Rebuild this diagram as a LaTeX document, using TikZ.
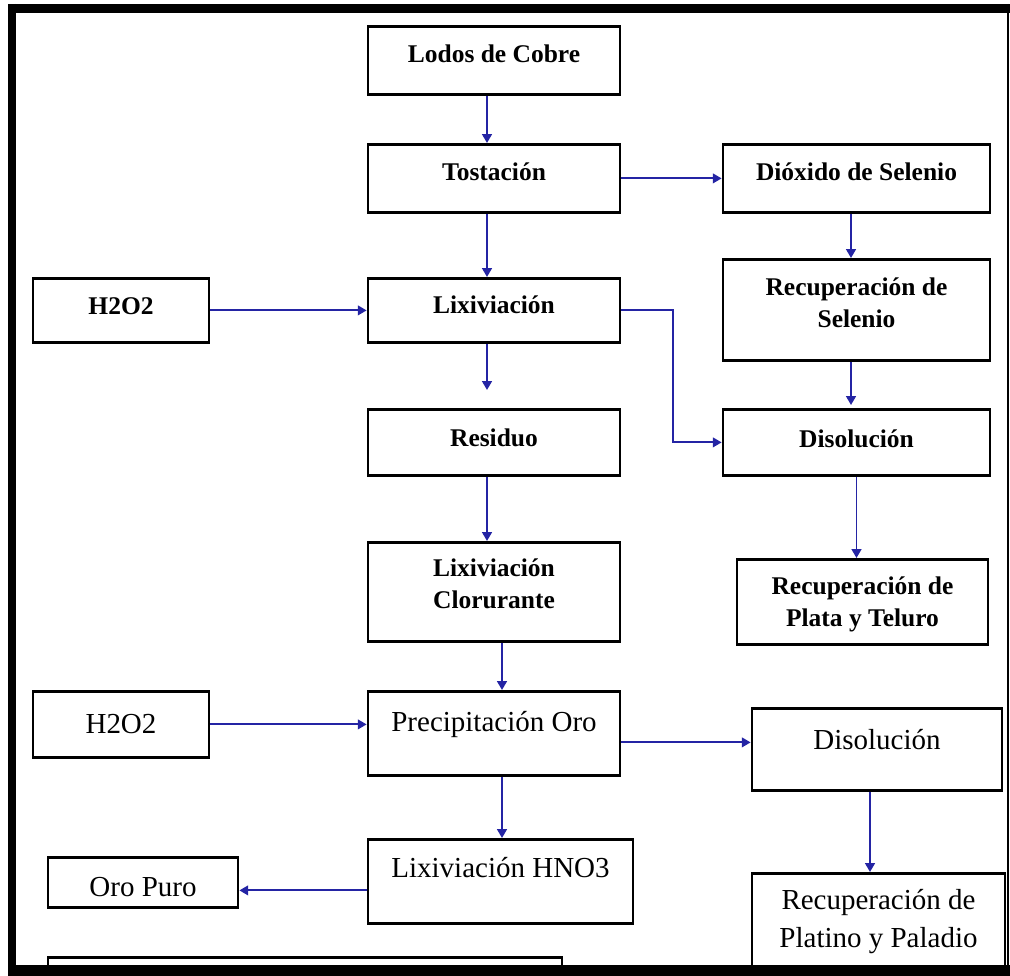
\documentclass[tikz,border=0pt]{standalone}
\usepackage{fontspec}
\setmainfont{Liberation Serif}
\usetikzlibrary{arrows.meta}
\definecolor{Azul}{HTML}{2424A4}
\tikzset{
  caja/.style args={#1/#2/#3}{
    rectangle, draw=black, line width=1.6pt,
    anchor=north, inner sep=0pt, align=center,
    minimum width=#1, text height=#2, text depth=#3,
  },
  tb/.style={font=\fontsize{14.5}{18.2}\selectfont\bfseries},
  tr/.style={font=\fontsize{16.5}{21.6}\selectfont},
  flecha/.style={
    -{Triangle[length=5pt,width=5.5pt]},
    line width=1.1pt, color=Azul,
  },
  marco/.style={line width=#1, color=black},
}
\begin{document}
\begin{tikzpicture}[x=0.02cm,y=-0.02cm]
    \useasboundingbox (0,0) rectangle (1010,976);

    \node[caja=5.04cm/0.72cm/0.64cm,tb] (lodos)  at (494,25)    {Lodos de Cobre};
    \node[caja=5.04cm/0.72cm/0.64cm,tb] (tost)   at (494,143)   {Tostación};
    \node[caja=5.34cm/0.72cm/0.64cm,tb] (diox)   at (856.5,143) {Dióxido de Selenio};
    \node[caja=3.52cm/0.72cm/0.56cm,tb] (agua1)  at (121,277)   {H2O2};
    \node[caja=5.04cm/0.70cm/0.58cm,tb] (lix)    at (494,277)   {Lixiviación};
    \node[caja=5.34cm/1.36cm/0.66cm,tb] (recsel) at (856.5,258) {Recuperación de\\Selenio};
    \node[caja=5.04cm/0.74cm/0.58cm,tb] (resid)  at (494,408)   {Residuo};
    \node[caja=5.34cm/0.76cm/0.56cm,tb] (disol)  at (856.5,408) {Disolución};
    \node[caja=5.04cm/1.32cm/0.66cm,tb] (clor)   at (494,541)   {Lixiviación\\Clorurante};
    \node[caja=5.02cm/1.34cm/0.36cm,tb] (plata)  at (862.5,558) {Recuperación de\\Plata y Teluro};
    \node[caja=3.52cm/0.84cm/0.48cm,tr] (agua2)  at (121,690)   {H2O2};
    \node[caja=5.04cm/0.80cm/0.88cm,tr] (precip) at (494,690)   {Precipitación Oro};
    \node[caja=5.00cm/0.82cm/0.82cm,tr] (disol2) at (877,707)   {Disolución};
    \node[caja=3.80cm/0.78cm/0.22cm,tr] (oro)    at (143,856)   {Oro Puro};
    \node[caja=5.30cm/0.76cm/0.92cm,tr] (hno)    at (500.5,838) {Lixiviación HNO3};
    \node[caja=5.06cm/1.48cm/0.88cm,tr] (platino) at (878.5,872) {Recuperación de\\Platino y Paladio};
    \node[caja=10.28cm/0.34cm/0.34cm]   (vacio)  at (305,956)   {};

    \draw[flecha] ([xshift=-0.14cm]lodos.south) -- ([xshift=-0.14cm]tost.north);
    \draw[flecha] (tost.east) -- (diox.west);
    \draw[flecha] ([xshift=-0.14cm]tost.south) -- ([xshift=-0.14cm]lix.north);
    \draw[flecha] (agua1.east) -- (lix.west);
    \draw[flecha,shorten >=0.36cm] ([xshift=-0.14cm]lix.south) -- ([xshift=-0.14cm]resid.north);
    \draw[flecha] (lix.east) -- ++(52,0) |- (disol.west);
    \draw[flecha] ([xshift=-0.11cm]diox.south) -- ([xshift=-0.11cm]recsel.north);
    \draw[flecha,shorten >=0.06cm] ([xshift=-0.11cm]recsel.south) -- ([xshift=-0.11cm]disol.north);
    \draw[flecha] (disol.south) -- (disol.south |- plata.north);
    \draw[flecha] ([xshift=-0.14cm]resid.south) -- ([xshift=-0.14cm]clor.north);
    \draw[flecha] ([xshift=0.16cm]clor.south) -- ([xshift=0.16cm]precip.north);
    \draw[flecha] (agua2.east) -- (agua2.east -| precip.west);
    \draw[flecha] ([yshift=-0.18cm]precip.east) -- ([yshift=-0.18cm]precip.east -| disol2.west);
    \draw[flecha] ([xshift=0.16cm]precip.south) -- ([xshift=0.16cm]precip.south |- hno.north);
    \draw[flecha] ([yshift=-0.18cm]hno.west) -- ([yshift=-0.18cm]hno.west -| oro.east);
    \draw[flecha] ([xshift=-0.14cm]disol2.south) -- ([xshift=-0.14cm]disol2.south |- platino.north);

    \draw[marco=0.18cm] (8,8.5) -- (1010,8.5);
    \draw[marco=0.16cm] (12,4) -- (12,976);
    \draw[marco=0.22cm] (8,970.5) -- (1010,970.5);
    \draw[marco=0.04cm] (1008,4) -- (1008,976);
\end{tikzpicture}
\end{document}
